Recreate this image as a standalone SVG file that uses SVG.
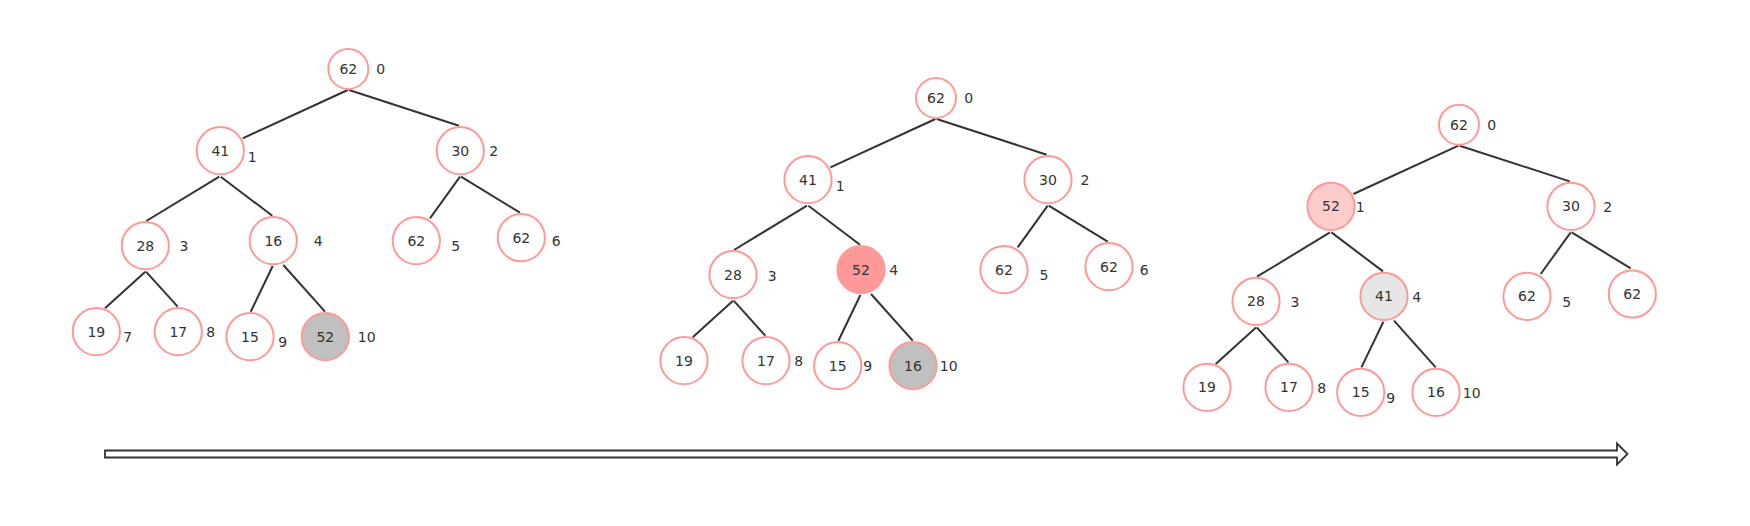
<svg xmlns="http://www.w3.org/2000/svg" width="1750" height="526" viewBox="0 0 1750 526">
<style>
.n{fill:#fff;stroke:#FF9999;stroke-width:2}
.gray{fill:#C0C0C0}
.hot{fill:#FF9999}
.pink{fill:#FFCCCC}
.light{fill:#E6E6E6}
.e{stroke:#333;stroke-width:2;fill:none}
text{font-family:"DejaVu Sans","Liberation Sans",sans-serif;font-size:14px;fill:#333;text-anchor:middle;dominant-baseline:central}
</style>
<rect width="1750" height="526" fill="#fff"/>

<!-- Tree 1 -->
<g id="tree1">
<g id="t1-edges" class="connectors">
<line class="e" x1="347.7" y1="90" x2="242.7" y2="138.3"/>
<line class="e" x1="349" y1="90" x2="459" y2="125.7"/>
<line class="e" x1="219.3" y1="176.7" x2="146.3" y2="221"/>
<line class="e" x1="220.7" y1="176.7" x2="272.3" y2="215.7"/>
<line class="e" x1="460" y1="176.7" x2="430" y2="218.3"/>
<line class="e" x1="461" y1="176.7" x2="520" y2="212.7"/>
<line class="e" x1="145.3" y1="271.7" x2="105" y2="308.3"/>
<line class="e" x1="146" y1="271.7" x2="177.7" y2="306.7"/>
<line class="e" x1="272.7" y1="266" x2="250.7" y2="311.7"/>
<line class="e" x1="283.3" y1="265" x2="325" y2="311.7"/>
</g>
<g id="t1-n0"><circle class="n" cx="348.3" cy="69" r="20"/><text x="348.3" y="69">62</text><text x="380.7" y="69">0</text></g>
<g id="t1-n1"><circle class="n" cx="220.3" cy="150.7" r="23.6"/><text x="220.3" y="150.7">41</text><text x="252.3" y="156.7">1</text></g>
<g id="t1-n2"><circle class="n" cx="460.3" cy="150.7" r="23.6"/><text x="460.3" y="150.7">30</text><text x="493.7" y="151.3">2</text></g>
<g id="t1-n3"><circle class="n" cx="145.3" cy="245.7" r="23.6"/><text x="145.3" y="245.7">28</text><text x="184" y="246">3</text></g>
<g id="t1-n4"><circle class="n" cx="273.3" cy="240.7" r="23.6"/><text x="273.3" y="240.7">16</text><text x="318.3" y="240.7">4</text></g>
<g id="t1-n5"><circle class="n" cx="416.3" cy="240.7" r="23.6"/><text x="416.3" y="240.7">62</text><text x="455.7" y="246">5</text></g>
<g id="t1-n6"><circle class="n" cx="521.3" cy="237.7" r="23.6"/><text x="521.3" y="237.7">62</text><text x="556.3" y="240.7">6</text></g>
<g id="t1-n7"><circle class="n" cx="96.3" cy="331.7" r="23.6"/><text x="96.3" y="331.7">19</text><text x="127.7" y="336.7">7</text></g>
<g id="t1-n8"><circle class="n" cx="178.3" cy="331.7" r="23.6"/><text x="178.3" y="331.7">17</text><text x="210.7" y="332.3">8</text></g>
<g id="t1-n9"><circle class="n" cx="250" cy="336.7" r="23.6"/><text x="250" y="336.7">15</text><text x="282.7" y="341.7">9</text></g>
<g id="t1-n10"><circle class="n gray" cx="325.3" cy="336.7" r="23.6"/><text x="325.3" y="336.7">52</text><text x="366.7" y="336.7">10</text></g>
</g>

<!-- Tree 2 -->
<g id="tree2" transform="translate(587.7,29)">
<g id="t2-edges" class="connectors">
<line class="e" x1="347.7" y1="90" x2="242.7" y2="138.3"/>
<line class="e" x1="349" y1="90" x2="459" y2="125.7"/>
<line class="e" x1="219.3" y1="176.7" x2="146.3" y2="221"/>
<line class="e" x1="220.7" y1="176.7" x2="272.3" y2="215.7"/>
<line class="e" x1="460" y1="176.7" x2="430" y2="218.3"/>
<line class="e" x1="461" y1="176.7" x2="520" y2="212.7"/>
<line class="e" x1="145.3" y1="271.7" x2="105" y2="308.3"/>
<line class="e" x1="146" y1="271.7" x2="177.7" y2="306.7"/>
<line class="e" x1="272.7" y1="266" x2="250.7" y2="311.7"/>
<line class="e" x1="283.3" y1="265" x2="325" y2="311.7"/>
</g>
<g id="t2-n0"><circle class="n" cx="348.3" cy="69" r="20"/><text x="348.3" y="69">62</text><text x="381" y="69.3">0</text></g>
<g id="t2-n1"><circle class="n" cx="220.3" cy="150.7" r="23.6"/><text x="220.3" y="150.7">41</text><text x="252.6" y="156.7">1</text></g>
<g id="t2-n2"><circle class="n" cx="460.3" cy="150.7" r="23.6"/><text x="460.3" y="150.7">30</text><text x="497.3" y="151">2</text></g>
<g id="t2-n3"><circle class="n" cx="145.3" cy="245.7" r="23.6"/><text x="145.3" y="245.7">28</text><text x="184.6" y="246.7">3</text></g>
<g id="t2-n4"><circle class="n hot" cx="273.3" cy="240.7" r="23.6"/><text x="273.3" y="240.7">52</text><text x="306" y="241.3">4</text></g>
<g id="t2-n5"><circle class="n" cx="416.3" cy="240.7" r="23.6"/><text x="416.3" y="240.7">62</text><text x="456.3" y="246">5</text></g>
<g id="t2-n6"><circle class="n" cx="521.3" cy="237.7" r="23.6"/><text x="521.3" y="237.7">62</text><text x="556.6" y="241">6</text></g>
<g id="t2-n7"><circle class="n" cx="96.3" cy="331.7" r="23.6"/><text x="96.3" y="331.7">19</text></g>
<g id="t2-n8"><circle class="n" cx="178.3" cy="331.7" r="23.6"/><text x="178.3" y="331.7">17</text><text x="211" y="332">8</text></g>
<g id="t2-n9"><circle class="n" cx="250" cy="336.7" r="23.6"/><text x="250" y="336.7">15</text><text x="280" y="337">9</text></g>
<g id="t2-n10"><circle class="n gray" cx="325.3" cy="336.7" r="23.6"/><text x="325.3" y="336.7">16</text><text x="361" y="337">10</text></g>
</g>

<!-- Tree 3 -->
<g id="tree3" transform="translate(1110.7,55.7)">
<g id="t3-edges" class="connectors">
<line class="e" x1="347.7" y1="90" x2="242.7" y2="138.3"/>
<line class="e" x1="349" y1="90" x2="459" y2="125.7"/>
<line class="e" x1="219.3" y1="176.7" x2="146.3" y2="221"/>
<line class="e" x1="220.7" y1="176.7" x2="272.3" y2="215.7"/>
<line class="e" x1="460" y1="176.7" x2="430" y2="218.3"/>
<line class="e" x1="461" y1="176.7" x2="520" y2="212.7"/>
<line class="e" x1="145.3" y1="271.7" x2="105" y2="308.3"/>
<line class="e" x1="146" y1="271.7" x2="177.7" y2="306.7"/>
<line class="e" x1="272.7" y1="266" x2="250.7" y2="311.7"/>
<line class="e" x1="283.3" y1="265" x2="325" y2="311.7"/>
</g>
<g id="t3-n0"><circle class="n" cx="348.3" cy="69" r="20"/><text x="348.3" y="69">62</text><text x="381" y="69.3">0</text></g>
<g id="t3-n1"><circle class="n pink" cx="220.3" cy="150.7" r="23.6"/><text x="220.3" y="150.7">52</text><text x="249.6" y="151.6">1</text></g>
<g id="t3-n2"><circle class="n" cx="460.3" cy="150.7" r="23.6"/><text x="460.3" y="150.7">30</text><text x="497" y="151.6">2</text></g>
<g id="t3-n3"><circle class="n" cx="145.3" cy="245.7" r="23.6"/><text x="145.3" y="245.7">28</text><text x="184.3" y="246">3</text></g>
<g id="t3-n4"><circle class="n light" cx="273.3" cy="240.7" r="23.6"/><text x="273.3" y="240.7">41</text><text x="306" y="241.6">4</text></g>
<g id="t3-n5"><circle class="n" cx="416.3" cy="240.7" r="23.6"/><text x="416.3" y="240.7">62</text><text x="456" y="246">5</text></g>
<g id="t3-n6"><circle class="n" cx="521.6" cy="238.3" r="23.6"/><text x="521.6" y="238.3">62</text></g>
<g id="t3-n7"><circle class="n" cx="96.3" cy="331.7" r="23.6"/><text x="96.3" y="331.7">19</text></g>
<g id="t3-n8"><circle class="n" cx="178.3" cy="331.7" r="23.6"/><text x="178.3" y="331.7">17</text><text x="211" y="332">8</text></g>
<g id="t3-n9"><circle class="n" cx="250" cy="336.7" r="23.6"/><text x="250" y="336.7">15</text><text x="280" y="342.6">9</text></g>
<g id="t3-n10"><circle class="n" cx="325.3" cy="336.7" r="23.6"/><text x="325.3" y="336.7">16</text><text x="361" y="337">10</text></g>
</g>

<!-- Progress arrow -->
<g id="arrow">
<path d="M105,450.5 L1617,450.5 L1617,443.5 L1627.5,454 L1617,464.5 L1617,457.5 L105,457.5 Z" fill="#fff" stroke="#333" stroke-width="1.8" stroke-linejoin="miter"/>
</g>
</svg>
